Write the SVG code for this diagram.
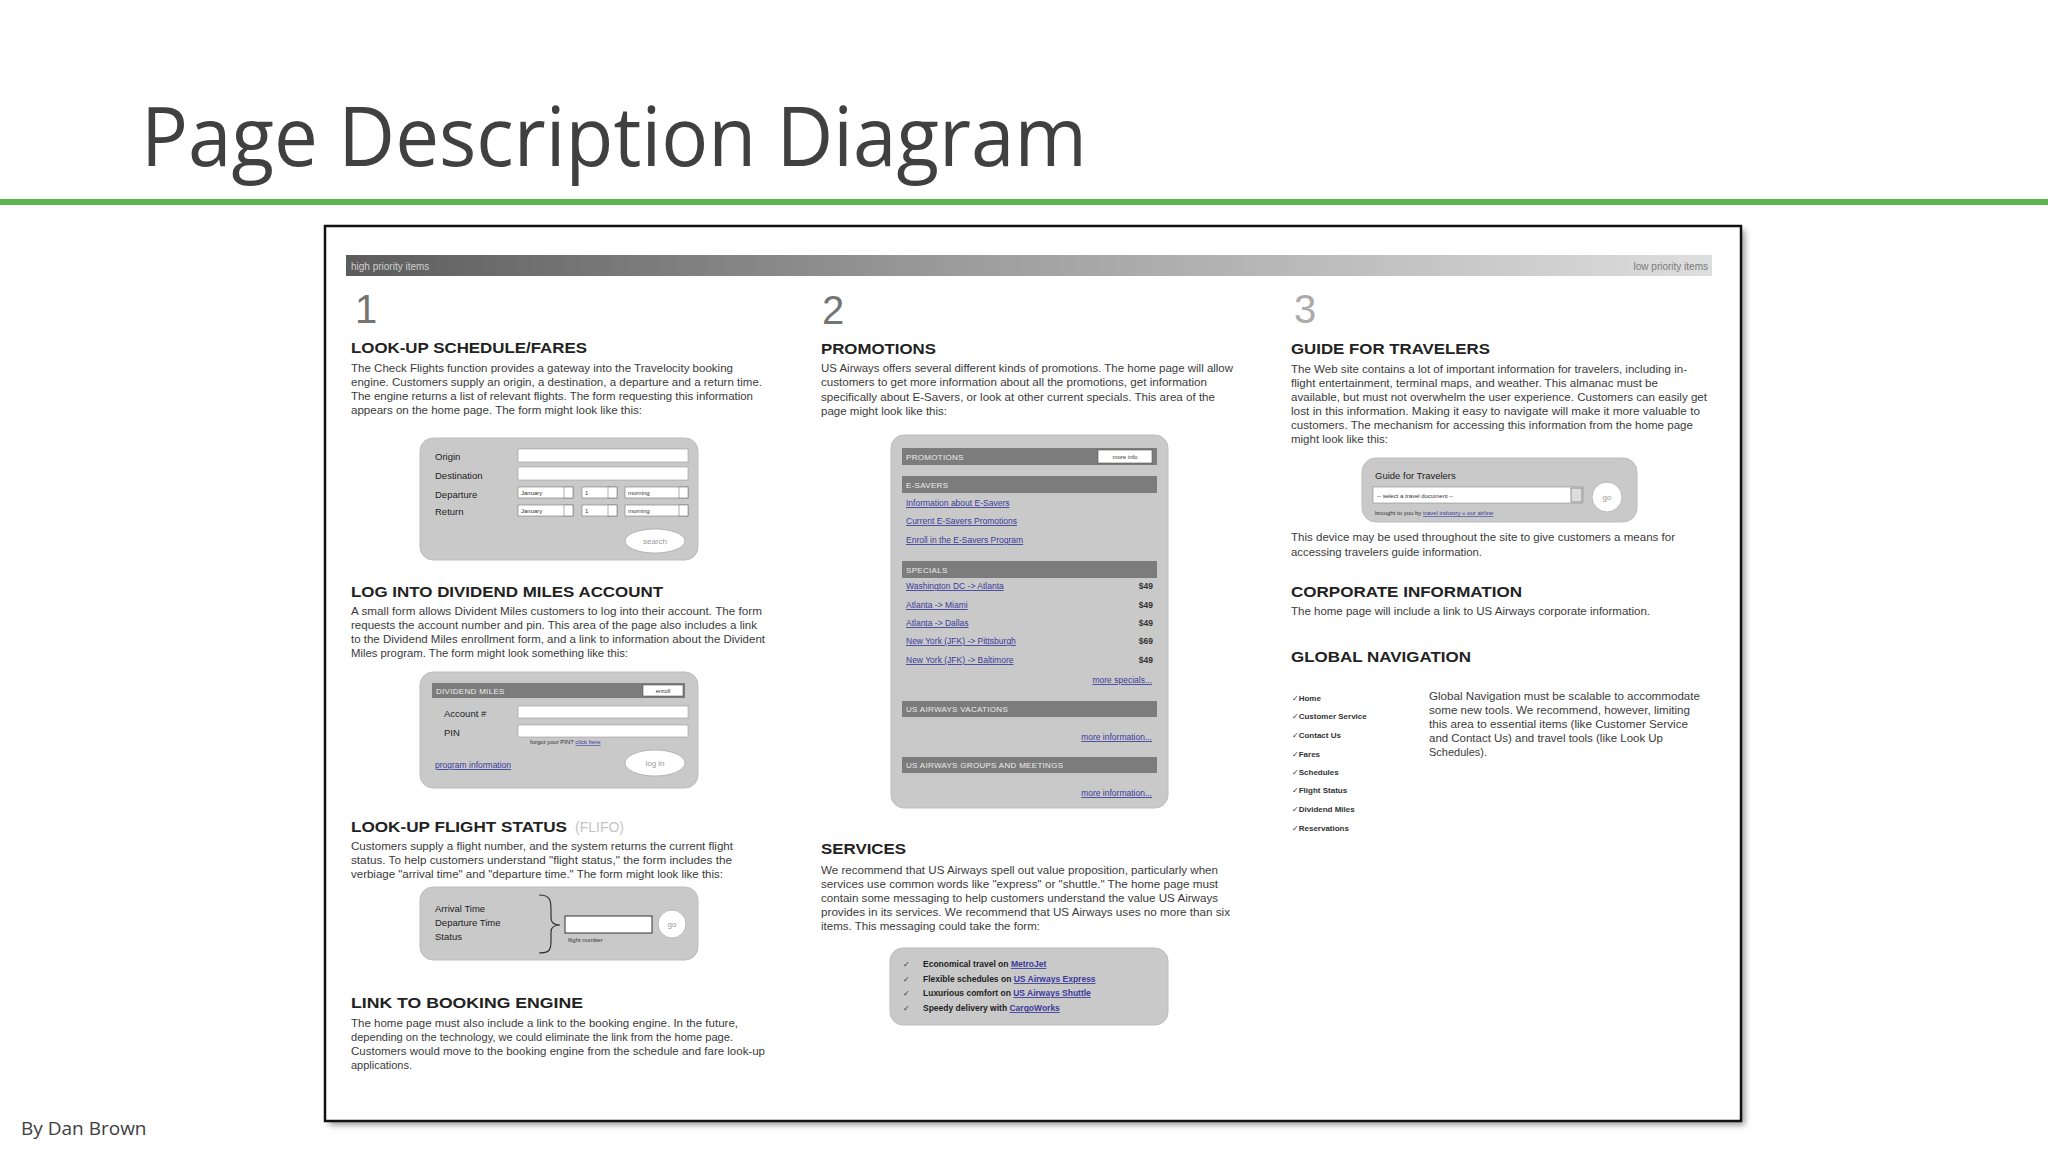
<svg xmlns="http://www.w3.org/2000/svg" width="2048" height="1152" viewBox="0 0 2048 1152">
<defs>
<linearGradient id="prio" x1="0" y1="0" x2="1" y2="0">
<stop offset="0" stop-color="#5c5c5c"/>
<stop offset="0.45" stop-color="#9c9c9c"/>
<stop offset="1" stop-color="#dedede"/>
</linearGradient>
<filter id="sh" x="-5%" y="-5%" width="110%" height="110%"><feGaussianBlur stdDeviation="3"/></filter>
<style>
.title{font-family:"Open Sans","Noto Sans",sans-serif;font-size:82px;fill:#404040}
.by{font-family:"Open Sans","Noto Sans",sans-serif;font-size:19px;fill:#404040}
.num{font-family:"Liberation Sans",Arial,sans-serif;font-size:40px;fill:#747474}
.h{font-family:"Liberation Sans",Arial,sans-serif;font-weight:bold;font-size:15px;fill:#222}
.b{font-family:"Liberation Sans",Arial,sans-serif;font-size:10.5px;fill:#3a3a3a}
.lbl{font-family:"Liberation Sans",Arial,sans-serif;font-size:9.5px;fill:#222}
.tiny{font-family:"Liberation Sans",Arial,sans-serif;font-size:6px;fill:#333}
.form{fill:#c9c9c9;stroke:#bdbdbd;stroke-width:1}
.fld{fill:#fff;stroke:#9a9a9a;stroke-width:0.6}
.dd{fill:#fff;stroke:#777;stroke-width:0.6}
.bar{fill:#7c7c7c}
.bt{font-family:"Liberation Sans",Arial,sans-serif;font-size:8px;fill:#ececec;letter-spacing:0.3px}
.lnk{font-family:"Liberation Sans",Arial,sans-serif;font-size:8.5px;fill:#3b3b9c;text-decoration:underline}
.pr{font-family:"Liberation Sans",Arial,sans-serif;font-size:8.5px;font-weight:bold;fill:#333}
.btn{fill:#fff;stroke:#aaa;stroke-width:0.8}
.btxt{font-family:"Liberation Sans",Arial,sans-serif;font-size:8px;fill:#999}
.sv{font-family:"Liberation Sans",Arial,sans-serif;font-size:8.5px;font-weight:bold;fill:#222}
.nav{font-family:"Liberation Sans","DejaVu Sans",sans-serif;font-size:8px;font-weight:bold;fill:#333}
</style>
</defs>
<rect width="2048" height="1152" fill="#ffffff"/>

<g id="slide-title">
<text class="title" x="141" y="166" textLength="946" lengthAdjust="spacingAndGlyphs">Page Description Diagram</text>
<rect x="0" y="199" width="2048" height="6" fill="#5fb54e"/>
</g>
<g id="author"><text class="by" x="21" y="1135">By Dan Brown</text></g>

<g id="frame">
<rect x="329" y="230" width="1416" height="895" fill="#9a9a9a" filter="url(#sh)"/>
<rect x="325" y="226" width="1416" height="895" fill="#fff" stroke="#111" stroke-width="2.5"/>
</g>

<g id="priority-bar">
<rect x="346" y="255" width="1366" height="21" fill="url(#prio)"/>
<text x="351" y="270" font-family="Liberation Sans, Arial, sans-serif" font-size="10" fill="#cfcfcf">high priority items</text>
<text x="1708" y="270" text-anchor="end" font-family="Liberation Sans, Arial, sans-serif" font-size="10" fill="#7a7a7a">low priority items</text>
</g>

<g id="col1-schedule">
<text class="num" x="355" y="323">1</text>
<text class="h" x="351" y="353" textLength="236" lengthAdjust="spacingAndGlyphs">LOOK-UP SCHEDULE/FARES</text>
<text class="b" x="351" y="372" textLength="382" lengthAdjust="spacingAndGlyphs">The Check Flights function provides a gateway into the Travelocity booking</text>
<text class="b" x="351" y="386" textLength="411" lengthAdjust="spacingAndGlyphs">engine. Customers supply an origin, a destination, a departure and a return time.</text>
<text class="b" x="351" y="400" textLength="402" lengthAdjust="spacingAndGlyphs">The engine returns a list of relevant flights. The form requesting this information</text>
<text class="b" x="351" y="414" textLength="291" lengthAdjust="spacingAndGlyphs">appears on the home page. The form might look like this:</text>
<rect class="form" x="420" y="438" width="278" height="122" rx="13"/>
<text class="lbl" x="435" y="460">Origin</text>
<text class="lbl" x="435" y="479">Destination</text>
<text class="lbl" x="435" y="498">Departure</text>
<text class="lbl" x="435" y="515">Return</text>
<rect class="fld" x="518" y="449" width="170" height="13"/>
<rect class="fld" x="518" y="467" width="170" height="13"/>
<rect class="dd" x="518" y="487" width="55" height="11"/>
<rect class="dd" x="564" y="487" width="9" height="11" fill="#ddd"/>
<text class="tiny" x="521" y="495">January</text>
<rect class="dd" x="582" y="487" width="35" height="11"/>
<rect class="dd" x="608" y="487" width="9" height="11" fill="#ddd"/>
<text class="tiny" x="585" y="495">1</text>
<rect class="dd" x="625" y="487" width="63" height="11"/>
<rect class="dd" x="679" y="487" width="9" height="11" fill="#ddd"/>
<text class="tiny" x="628" y="495">morning</text>
<rect class="dd" x="518" y="505" width="55" height="11"/>
<rect class="dd" x="564" y="505" width="9" height="11" fill="#ddd"/>
<text class="tiny" x="521" y="513">January</text>
<rect class="dd" x="582" y="505" width="35" height="11"/>
<rect class="dd" x="608" y="505" width="9" height="11" fill="#ddd"/>
<text class="tiny" x="585" y="513">1</text>
<rect class="dd" x="625" y="505" width="63" height="11"/>
<rect class="dd" x="679" y="505" width="9" height="11" fill="#ddd"/>
<text class="tiny" x="628" y="513">morning</text>
<ellipse class="btn" cx="655" cy="541" rx="30" ry="12"/>
<text class="btxt" x="655" y="544" text-anchor="middle">search</text>
</g>

<g id="col1-dividend">
<text class="h" x="351" y="597" textLength="312" lengthAdjust="spacingAndGlyphs">LOG INTO DIVIDEND MILES ACCOUNT</text>
<text class="b" x="351" y="615" textLength="411" lengthAdjust="spacingAndGlyphs">A small form allows Divident Miles customers to log into their account. The form</text>
<text class="b" x="351" y="629" textLength="406" lengthAdjust="spacingAndGlyphs">requests the account number and pin. This area of the page also includes a link</text>
<text class="b" x="351" y="643" textLength="414" lengthAdjust="spacingAndGlyphs">to the Dividend Miles enrollment form, and a link to information about the Divident</text>
<text class="b" x="351" y="657" textLength="277" lengthAdjust="spacingAndGlyphs">Miles program. The form might look something like this:</text>
<rect class="form" x="420" y="672" width="278" height="116" rx="13"/>
<rect class="bar" x="432" y="683" width="253" height="15"/>
<text class="bt" x="436" y="694">DIVIDEND MILES</text>
<rect x="643" y="685" width="40" height="11" fill="#fff" stroke="#555" stroke-width="0.6"/>
<text class="tiny" x="663" y="693" text-anchor="middle">enroll</text>
<text class="lbl" x="444" y="717">Account #</text>
<text class="lbl" x="444" y="736">PIN</text>
<rect class="fld" x="518" y="706" width="170" height="12"/>
<rect class="fld" x="518" y="725" width="170" height="12"/>
<text class="tiny" x="530" y="744" font-size="5">forgot your PIN? <tspan fill="#3b3b9c" text-decoration="underline">click here</tspan></text>
<text class="lnk" x="435" y="768">program information</text>
<ellipse class="btn" cx="655" cy="763" rx="30" ry="13"/>
<text class="btxt" x="655" y="766" text-anchor="middle">log in</text>
</g>

<g id="col1-flight-status">
<text class="h" x="351" y="832" textLength="216" lengthAdjust="spacingAndGlyphs">LOOK-UP FLIGHT STATUS</text>
<text x="575" y="832" font-family="Liberation Sans, Arial, sans-serif" font-size="14" fill="#c4c4c4">(FLIFO)</text>
<text class="b" x="351" y="850" textLength="382" lengthAdjust="spacingAndGlyphs">Customers supply a flight number, and the system returns the current flight</text>
<text class="b" x="351" y="864" textLength="381" lengthAdjust="spacingAndGlyphs">status. To help customers understand "flight status," the form includes the</text>
<text class="b" x="351" y="878" textLength="372" lengthAdjust="spacingAndGlyphs">verbiage "arrival time" and "departure time." The form might look like this:</text>
<rect class="form" x="420" y="887" width="278" height="73" rx="13"/>
<text class="lbl" x="435" y="912">Arrival Time</text>
<text class="lbl" x="435" y="926">Departure Time</text>
<text class="lbl" x="435" y="940">Status</text>
<path d="M539,895 C550,895 551,900 551,910 L551,918 C551,923 554,925 560,925 C554,925 551,927 551,932 L551,940 C551,950 550,953 539,953" fill="none" stroke="#333" stroke-width="1.2"/>
<rect x="565" y="916" width="87" height="17" fill="#fff" stroke="#333" stroke-width="1"/>
<text class="tiny" x="568" y="942" font-size="5">flight number</text>
<circle cx="672" cy="924" r="14" fill="#fff" stroke="#aaa" stroke-width="0.8"/>
<text class="btxt" x="672" y="927" text-anchor="middle">go</text>
</g>

<g id="col1-booking">
<text class="h" x="351" y="1008" textLength="232" lengthAdjust="spacingAndGlyphs">LINK TO BOOKING ENGINE</text>
<text class="b" x="351" y="1027" textLength="387" lengthAdjust="spacingAndGlyphs">The home page must also include a link to the booking engine. In the future,</text>
<text class="b" x="351" y="1041" textLength="382" lengthAdjust="spacingAndGlyphs">depending on the technology, we could eliminate the link from the home page.</text>
<text class="b" x="351" y="1055" textLength="414" lengthAdjust="spacingAndGlyphs">Customers would move to the booking engine from the schedule and fare look-up</text>
<text class="b" x="351" y="1069" textLength="61" lengthAdjust="spacingAndGlyphs">applications.</text>
</g>

<g id="col2-promotions">
<text class="num" x="822" y="324">2</text>
<text class="h" x="821" y="354" textLength="115" lengthAdjust="spacingAndGlyphs">PROMOTIONS</text>
<text class="b" x="821" y="372" textLength="412" lengthAdjust="spacingAndGlyphs">US Airways offers several different kinds of promotions. The home page will allow</text>
<text class="b" x="821" y="386" textLength="386" lengthAdjust="spacingAndGlyphs">customers to get more information about all the promotions, get information</text>
<text class="b" x="821" y="401" textLength="394" lengthAdjust="spacingAndGlyphs">specifically about E-Savers, or look at other current specials. This area of the</text>
<text class="b" x="821" y="415" textLength="126" lengthAdjust="spacingAndGlyphs">page might look like this:</text>
<rect class="form" x="891" y="435" width="277" height="373" rx="13"/>
<rect class="bar" x="902" y="448" width="255" height="17"/>
<text class="bt" x="906" y="460">PROMOTIONS</text>
<rect x="1098" y="450" width="54" height="13" fill="#fff" stroke="#555" stroke-width="0.6"/>
<text class="tiny" x="1125" y="459" text-anchor="middle">more info</text>
<rect class="bar" x="902" y="476" width="255" height="17"/>
<text class="bt" x="906" y="488">E-SAVERS</text>
<text class="lnk" x="906" y="506">Information about E-Savers</text>
<text class="lnk" x="906" y="524">Current E-Savers Promotions</text>
<text class="lnk" x="906" y="543">Enroll in the E-Savers Program</text>
<rect class="bar" x="902" y="561" width="255" height="17"/>
<text class="bt" x="906" y="573">SPECIALS</text>
<text class="lnk" x="906" y="589">Washington DC -&gt; Atlanta</text>
<text class="lnk" x="906" y="608">Atlanta -&gt; Miami</text>
<text class="lnk" x="906" y="626">Atlanta -&gt; Dallas</text>
<text class="lnk" x="906" y="644">New York (JFK) -&gt; Pittsburgh</text>
<text class="lnk" x="906" y="663">New York (JFK) -&gt; Baltimore</text>
<text class="pr" x="1153" y="589" text-anchor="end">$49</text>
<text class="pr" x="1153" y="608" text-anchor="end">$49</text>
<text class="pr" x="1153" y="626" text-anchor="end">$49</text>
<text class="pr" x="1153" y="644" text-anchor="end">$69</text>
<text class="pr" x="1153" y="663" text-anchor="end">$49</text>
<text class="lnk" x="1152" y="683" text-anchor="end">more specials...</text>
<rect class="bar" x="902" y="701" width="255" height="16"/>
<text class="bt" x="906" y="712">US AIRWAYS VACATIONS</text>
<text class="lnk" x="1152" y="740" text-anchor="end">more information...</text>
<rect class="bar" x="902" y="757" width="255" height="16"/>
<text class="bt" x="906" y="768">US AIRWAYS GROUPS AND MEETINGS</text>
<text class="lnk" x="1152" y="796" text-anchor="end">more information...</text>
</g>

<g id="col2-services">
<text class="h" x="821" y="854" textLength="85" lengthAdjust="spacingAndGlyphs">SERVICES</text>
<text class="b" x="821" y="874" textLength="397" lengthAdjust="spacingAndGlyphs">We recommend that US Airways spell out value proposition, particularly when</text>
<text class="b" x="821" y="888" textLength="397" lengthAdjust="spacingAndGlyphs">services use common words like "express" or "shuttle." The home page must</text>
<text class="b" x="821" y="902" textLength="397" lengthAdjust="spacingAndGlyphs">contain some messaging to help customers understand the value US Airways</text>
<text class="b" x="821" y="916" textLength="409" lengthAdjust="spacingAndGlyphs">provides in its services. We recommend that US Airways uses no more than six</text>
<text class="b" x="821" y="930" textLength="219" lengthAdjust="spacingAndGlyphs">items. This messaging could take the form:</text>
<rect class="form" x="890" y="948" width="278" height="77" rx="13"/>
<text class="nav" x="903" y="967">✓</text>
<text class="nav" x="903" y="982">✓</text>
<text class="nav" x="903" y="996">✓</text>
<text class="nav" x="903" y="1011">✓</text>
<text class="sv" x="923" y="967">Economical travel on <tspan class="lnk">MetroJet</tspan></text>
<text class="sv" x="923" y="982">Flexible schedules on <tspan class="lnk">US Airways Express</tspan></text>
<text class="sv" x="923" y="996">Luxurious comfort on <tspan class="lnk">US Airways Shuttle</tspan></text>
<text class="sv" x="923" y="1011">Speedy delivery with <tspan class="lnk">CargoWorks</tspan></text>
</g>

<g id="col3-guide">
<text class="num" x="1294" y="323" fill="#ababab" style="fill:#ababab">3</text>
<text class="h" x="1291" y="354" textLength="199" lengthAdjust="spacingAndGlyphs">GUIDE FOR TRAVELERS</text>
<text class="b" x="1291" y="373" textLength="396" lengthAdjust="spacingAndGlyphs">The Web site contains a lot of important information for travelers, including in-</text>
<text class="b" x="1291" y="387" textLength="367" lengthAdjust="spacingAndGlyphs">flight entertainment, terminal maps, and weather. This almanac must be</text>
<text class="b" x="1291" y="401" textLength="416" lengthAdjust="spacingAndGlyphs">available, but must not overwhelm the user experience. Customers can easily get</text>
<text class="b" x="1291" y="415" textLength="409" lengthAdjust="spacingAndGlyphs">lost in this information. Making it easy to navigate will make it more valuable to</text>
<text class="b" x="1291" y="429" textLength="402" lengthAdjust="spacingAndGlyphs">customers. The mechanism for accessing this information from the home page</text>
<text class="b" x="1291" y="443" textLength="97" lengthAdjust="spacingAndGlyphs">might look like this:</text>
<rect class="form" x="1362" y="458" width="275" height="64" rx="14"/>
<text class="lbl" x="1375" y="479">Guide for Travelers</text>
<rect x="1373" y="487" width="210" height="16" fill="#fff" stroke="#888" stroke-width="0.6"/>
<rect x="1571" y="488" width="11" height="14" fill="#ddd" stroke="#555" stroke-width="0.6"/>
<text class="tiny" x="1377" y="498" font-size="7">-- select a travel document --</text>
<circle cx="1607" cy="497" r="15" fill="#fff" stroke="#aaa" stroke-width="0.8"/>
<text class="btxt" x="1607" y="500" text-anchor="middle">go</text>
<text class="tiny" x="1375" y="515" font-size="5">brought to you by <tspan fill="#3b3b9c" text-decoration="underline">travel industry » our airline</tspan></text>
<text class="b" x="1291" y="541" textLength="384" lengthAdjust="spacingAndGlyphs">This device may be used throughout the site to give customers a means for</text>
<text class="b" x="1291" y="556" textLength="191" lengthAdjust="spacingAndGlyphs">accessing travelers guide information.</text>
</g>

<g id="col3-corporate">
<text class="h" x="1291" y="597" textLength="231" lengthAdjust="spacingAndGlyphs">CORPORATE INFORMATION</text>
<text class="b" x="1291" y="615" textLength="359" lengthAdjust="spacingAndGlyphs">The home page will include a link to US Airways corporate information.</text>
</g>

<g id="col3-global-nav">
<text class="h" x="1291" y="662" textLength="180" lengthAdjust="spacingAndGlyphs">GLOBAL NAVIGATION</text>
<text class="nav" x="1292" y="701">✓Home</text>
<text class="nav" x="1292" y="719">✓Customer Service</text>
<text class="nav" x="1292" y="738">✓Contact Us</text>
<text class="nav" x="1292" y="757">✓Fares</text>
<text class="nav" x="1292" y="775">✓Schedules</text>
<text class="nav" x="1292" y="793">✓Flight Status</text>
<text class="nav" x="1292" y="812">✓Dividend Miles</text>
<text class="nav" x="1292" y="831">✓Reservations</text>
<text class="b" x="1429" y="700" textLength="271" lengthAdjust="spacingAndGlyphs">Global Navigation must be scalable to accommodate</text>
<text class="b" x="1429" y="714" textLength="261" lengthAdjust="spacingAndGlyphs">some new tools. We recommend, however, limiting</text>
<text class="b" x="1429" y="728" textLength="259" lengthAdjust="spacingAndGlyphs">this area to essential items (like Customer Service</text>
<text class="b" x="1429" y="742" textLength="234" lengthAdjust="spacingAndGlyphs">and Contact Us) and travel tools (like Look Up</text>
<text class="b" x="1429" y="756" textLength="58" lengthAdjust="spacingAndGlyphs">Schedules).</text>
</g>
</svg>
